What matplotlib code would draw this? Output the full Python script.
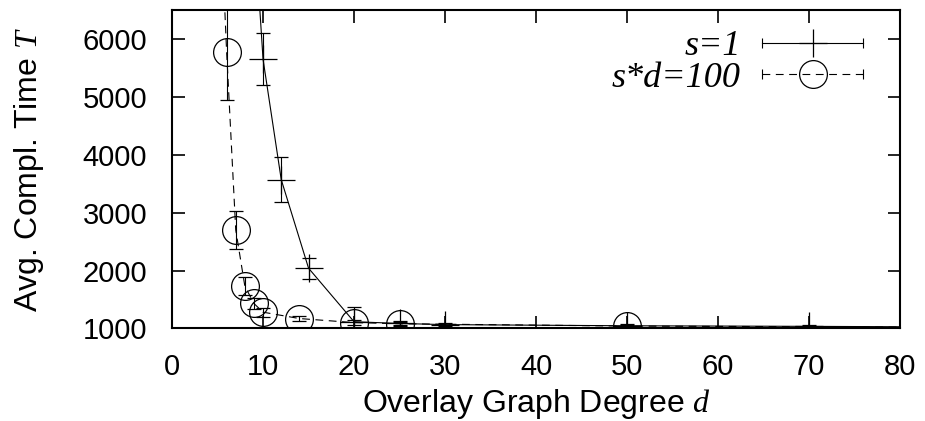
import matplotlib
matplotlib.use("Agg")
import matplotlib.pyplot as plt
from matplotlib.lines import Line2D
from matplotlib.legend_handler import HandlerBase

plt.rcParams["font.family"] = ["Liberation Sans", "DejaVu Sans"]
plt.rcParams["mathtext.fontset"] = "custom"
plt.rcParams["mathtext.it"] = "Liberation Serif:italic"
plt.rcParams["mathtext.rm"] = "Liberation Serif"

# series s=1
d_s1 = [9, 10, 12, 15, 20, 25, 30, 50, 70, 100]
t_s1 = [8080, 5650, 3570, 2040, 1115, 1085, 1065, 1045, 1035, 1015]
e_s1 = [600, 450, 390, 180, 250, 40, 30, 25, 20, 15]

# series s*d=100
d_sd = [5, 6, 7, 8, 9, 10, 14, 20, 25, 50, 100]
t_sd = [9400, 5770, 2700, 1730, 1430, 1280, 1170, 1100, 1080, 1040, 1010]
e_sd = [1500, 820, 320, 160, 100, 80, 50, 40, 30, 20, 10]

x_ticks = [0, 10, 20, 30, 40, 50, 60, 70, 80]
y_ticks = [1000, 2000, 3000, 4000, 5000, 6000]

DASH = (7, 5)


class GnuplotKeyHandler(HandlerBase):
    """Key sample like gnuplot: line with end caps and a marker in the middle."""

    def __init__(self, marker, ls):
        super().__init__()
        self.marker = marker
        self.ls = ls

    def create_artists(self, legend, orig_handle, xdescent, ydescent,
                       width, height, fontsize, trans):
        y = height / 2 - ydescent
        x0, x1 = -xdescent, width - xdescent
        line = Line2D([x0, x1], [y, y], color="black", lw=0.8)
        if self.ls == "--":
            line.set_dashes(DASH)
        caps = Line2D([x0, x1], [y, y], ls="none", marker="|", ms=7,
                      mew=0.8, color="black")
        mk = Line2D([(x0 + x1) / 2], [y], ls="none", marker=self.marker,
                    ms=20, mew=0.9, mfc="none", mec="black")
        for a in (line, caps, mk):
            a.set_transform(trans)
        return [line, caps, mk]


fig = plt.figure(figsize=(9.25, 4.21), dpi=100)
ax = fig.add_axes([0.186, 0.22, 0.787, 0.756])

ax.errorbar(d_s1, t_s1, yerr=e_s1, color="black", lw=0.8, marker="+",
            ms=20, mew=0.9, capsize=5, elinewidth=0.8, capthick=0.8)
ax.errorbar(d_sd, t_sd, yerr=e_sd, color="black", lw=0.8, ls="--",
            dashes=DASH, marker="o", ms=20, mew=0.9, mfc="none",
            capsize=5, elinewidth=0.8, capthick=0.8)

ax.set_xlim(0, 80)
ax.set_ylim(1000, 6500)
ax.set_xticks(x_ticks)
ax.set_yticks(y_ticks)
ax.tick_params(direction="in", length=9, width=1.2, labelsize=21,
               top=True, right=True, pad=18)
for sp in ax.spines.values():
    sp.set_linewidth(1.5)

ax.set_xlabel(r"Overlay Graph Degree $d$", fontsize=23, labelpad=4)
ax.set_ylabel(r"Avg. Compl. Time $T$", fontsize=23, labelpad=26)

h1 = Line2D([], [])
h2 = Line2D([], [])
leg = ax.legend([h1, h2], ["s=1", "s*d=100"],
                handler_map={h1: GnuplotKeyHandler("+", "-"),
                             h2: GnuplotKeyHandler("o", "--")},
                loc="upper right", bbox_to_anchor=(0.977, 1.0),
                markerfirst=False, frameon=False, handlelength=2.8,
                handletextpad=0.6, labelspacing=-0.04, borderaxespad=0.15,
                prop={"family": "Liberation Serif", "style": "italic",
                      "size": 26})

fig.savefig("out.png", dpi=100)
